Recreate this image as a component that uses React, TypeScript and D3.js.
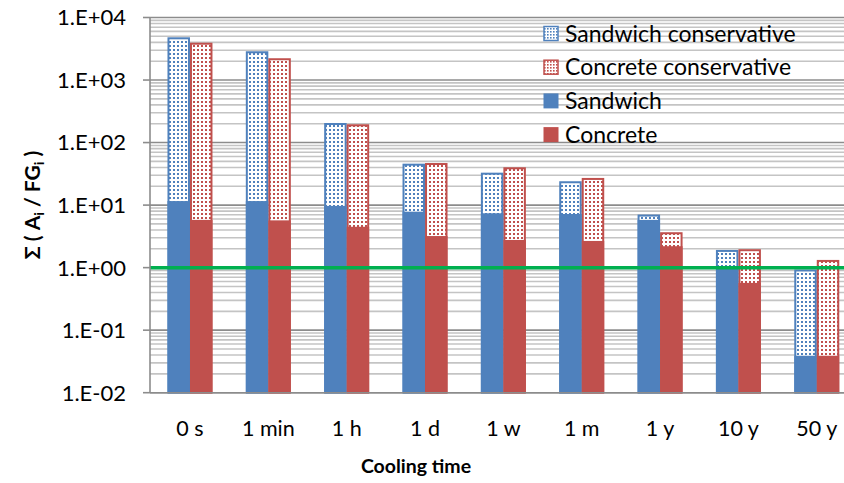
import React from 'react';
import * as d3 from 'd3';

const categories = ['0 s', '1 min', '1 h', '1 d', '1 w', '1 m', '1 y', '10 y', '50 y'];
const sandwich = [11.6, 11.6, 9.7, 7.85, 7.4, 7.2, 5.8, 1.0, 0.039];
const concrete = [5.8, 5.7, 4.5, 3.2, 2.77, 2.67, 2.2, 0.57, 0.039];
const sandwichCons = [4650, 2780, 198, 44.3, 31.8, 23.2, 6.8, 1.85, 0.9];
const concreteCons = [3810, 2150, 189, 45.4, 38.8, 26.2, 3.55, 1.9, 1.28];
const tickValues = [0.01, 0.1, 1, 10, 100, 1000, 10000];
const tickLabels = ['1.E-02', '1.E-01', '1.E+00', '1.E+01', '1.E+02', '1.E+03', '1.E+04'];
const seriesNames = ['Sandwich', 'Concrete'];
const legendItems = ['Sandwich conservative', 'Concrete conservative', 'Sandwich', 'Concrete'];
const referenceValue = 1;

const BLUE = '#4F81BD';
const RED = '#C0504D';
const GREEN = '#00B050';
const FONT = 'Lato, "Open Sans", sans-serif';

export default function App() {
  const W = 844, H = 483;
  const left = 150.8, top = 17.5, bottom = 392.7;
  const step = 78.35;
  const right = left + step * categories.length;

  const y = d3.scaleLog().domain([0.01, 10000]).range([bottom, top]);
  const x = d3.scaleBand<string>().domain(categories).range([left, right]).paddingInner(0.4257).paddingOuter(0.4257 / 2);
  const xs = d3.scaleBand<string>().domain(seriesNames).range([0, x.bandwidth()]);

  const minor: number[] = [];
  for (let e = -2; e < 4; e++) {
    for (let k = 2; k <= 9; k++) minor.push(k * Math.pow(10, e));
  }

  const solid = [sandwich, concrete];
  const cons = [sandwichCons, concreteCons];
  const colors = [BLUE, RED];
  const pats = ['patBlue', 'patRed'];

  return (
    <svg width={W} height={H} style={{ position: 'absolute', left: 0, top: 0 }} fontFamily={FONT}>
      <defs>
        <pattern id="patBlue" width={4} height={4} patternUnits="userSpaceOnUse">
          <rect width={4} height={4} fill="#fff" />
          <rect x={1} y={1} width={2} height={2} fill={BLUE} />
        </pattern>
        <pattern id="patRed" width={4} height={4} patternUnits="userSpaceOnUse">
          <rect width={4} height={4} fill="#fff" />
          <rect x={1} y={1} width={2} height={2} fill={RED} />
        </pattern>
        <pattern id="legBlue" width={3} height={3} patternUnits="userSpaceOnUse">
          <rect width={3} height={3} fill="#fff" />
          <rect x={1} y={1} width={1.6} height={1.6} fill={BLUE} />
        </pattern>
        <pattern id="legRed" width={3} height={3} patternUnits="userSpaceOnUse">
          <rect width={3} height={3} fill="#fff" />
          <rect x={1} y={1} width={1.6} height={1.6} fill={RED} />
        </pattern>
      </defs>
      <rect width={W} height={H} fill="#fff" />

      {/* minor gridlines */}
      {minor.map((v, i) => (
        <line key={'m' + i} x1={150} x2={right} y1={y(v)} y2={y(v)} stroke="#C4C4C4" strokeWidth={1.6} />
      ))}
      {/* major gridlines */}
      {tickValues.map((v, i) => (
        <line key={'g' + i} x1={150} x2={right} y1={y(v)} y2={y(v)} stroke="#8C8C8C" strokeWidth={1.6} />
      ))}

      {/* bars */}
      {categories.map((c, i) => (
        <g key={c}>
          {seriesNames.map((s, j) => {
            const bx = (x(c) as number) + (xs(s) as number);
            const bw = xs.bandwidth();
            const yc = y(cons[j][i]);
            return (
              <rect key={'c' + s} x={bx + 1} y={yc} width={bw - 2} height={bottom - yc}
                fill={`url(#${pats[j]})`} stroke={colors[j]} strokeWidth={2} />
            );
          })}
          {seriesNames.map((s, j) => {
            const bx = (x(c) as number) + (xs(s) as number);
            const bw = xs.bandwidth();
            const ys = y(solid[j][i]);
            return (
              <rect key={'s' + s} x={bx} y={ys} width={bw} height={bottom - ys} fill={colors[j]} />
            );
          })}
        </g>
      ))}

      {/* reference line */}
      <line x1={150} x2={right} y1={y(referenceValue)} y2={y(referenceValue)} stroke={GREEN} strokeWidth={3.5} />

      {/* axes */}
      <line x1={150} x2={150} y1={top} y2={bottom} stroke="#8C8C8C" strokeWidth={1.6} />
      <line x1={150} x2={right} y1={bottom} y2={bottom} stroke="#8C8C8C" strokeWidth={1.6} />
      {tickValues.map((v, i) => (
        <g key={'t' + i}>
          <line x1={143} x2={150} y1={y(v)} y2={y(v)} stroke="#8C8C8C" strokeWidth={1.6} />
          <text x={126} y={y(v)} dy="0.36em" textAnchor="end" fontSize={22} fill="#000">{tickLabels[i]}</text>
        </g>
      ))}
      {categories.map((c) => (
        <text key={'xl' + c} x={(x(c) as number) + x.bandwidth() / 2} y={436} textAnchor="middle" fontSize={21.5} fill="#000">{c}</text>
      ))}

      {/* axis titles */}
      <text x={416} y={473} textAnchor="middle" fontSize={19.5} fontWeight="bold" fill="#000">Cooling time</text>
      <text transform="translate(40,205) rotate(-90)" textAnchor="middle" fontSize={21} fontWeight="bold" fill="#000">
        Σ ( A<tspan fontSize={14} dy={4}>i</tspan><tspan dy={-4}> / FG</tspan><tspan fontSize={14} dy={4}>i</tspan><tspan dy={-4}> )</tspan>
      </text>

      {/* legend */}
      {legendItems.map((name, i) => {
        const cy = 33.5 + i * 33.7;
        const isCons = i < 2;
        const col = i % 2 === 0 ? BLUE : RED;
        return (
          <g key={name}>
            {isCons ? (
              <rect x={544} y={cy - 7} width={14} height={14} fill={i === 0 ? 'url(#legBlue)' : 'url(#legRed)'} stroke={col} strokeWidth={1.5} />
            ) : (
              <rect x={543.5} y={cy - 7.5} width={15} height={15} fill={col} />
            )}
            <text x={565} y={cy} dy="0.36em" fontSize={23} fill="#000">{name}</text>
          </g>
        );
      })}
    </svg>
  );
}
